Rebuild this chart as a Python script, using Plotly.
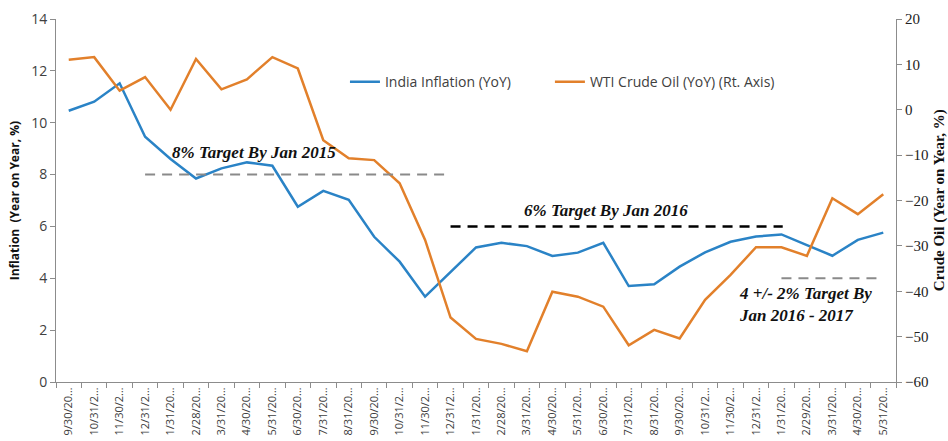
import plotly.graph_objects as go

dates = ["2013-09-30", "2013-10-31", "2013-11-30", "2013-12-31",
         "2014-01-31", "2014-02-28", "2014-03-31", "2014-04-30", "2014-05-31", "2014-06-30",
         "2014-07-31", "2014-08-31", "2014-09-30", "2014-10-31", "2014-11-30", "2014-12-31",
         "2015-01-31", "2015-02-28", "2015-03-31", "2015-04-30", "2015-05-31", "2015-06-30",
         "2015-07-31", "2015-08-31", "2015-09-30", "2015-10-31", "2015-11-30", "2015-12-31",
         "2016-01-31", "2016-02-29", "2016-03-31", "2016-04-30", "2016-05-31"]

tick_labels = ["9/30/20…", "10/31/2…", "11/30/2…", "12/31/2…",
               "1/31/20…", "2/28/20…", "3/31/20…", "4/30/20…", "5/31/20…", "6/30/20…",
               "7/31/20…", "8/31/20…", "9/30/20…", "10/31/2…", "11/30/2…", "12/31/2…",
               "1/31/20…", "2/28/20…", "3/31/20…", "4/30/20…", "5/31/20…", "6/30/20…",
               "7/31/20…", "8/31/20…", "9/30/20…", "10/31/2…", "11/30/2…", "12/31/2…",
               "1/31/20…", "2/29/20…", "3/31/20…", "4/30/20…", "5/31/20…"]

india_inflation = [10.46, 10.81, 11.52, 9.46, 8.6, 7.85, 8.24, 8.47, 8.34, 6.76,
                   7.37, 7.03, 5.6, 4.64, 3.29, 4.25, 5.19, 5.37, 5.24, 4.86,
                   4.99, 5.37, 3.70, 3.77, 4.45, 5.0, 5.41, 5.61, 5.69, 5.28,
                   4.87, 5.48, 5.76]

wti_crude = [11.0, 11.6, 4.2, 7.2, 0.0, 11.2, 4.5, 6.7, 11.6, 9.1,
             -6.7, -10.7, -11.1, -16.2, -28.7, -45.8, -50.5, -51.6, -53.2, -40.1,
             -41.2, -43.4, -51.9, -48.5, -50.4, -41.9, -36.4, -30.3, -30.3, -32.2,
             -19.5, -23.0, -18.6]

target_values = [8, 6, 4]
target_labels = ["8% Target By Jan 2015", "6% Target By Jan 2016",
                 "4 +/- 2% Target By<br>Jan 2016 - 2017"]

BLUE = "#2A83C6"
ORANGE = "#E2802B"
AXIS = "#8C8C8C"
SANS = "Open Sans, Liberation Sans, sans-serif"
SERIF = "Liberation Serif, Times New Roman, serif"

fig = go.Figure()
fig.add_trace(go.Scatter(x=dates, y=india_inflation, mode="lines",
                         name="India Inflation (YoY)", legend="legend",
                         line=dict(color=BLUE, width=2.5)))
fig.add_trace(go.Scatter(x=dates, y=wti_crude, mode="lines",
                         name="WTI Crude Oil (YoY) (Rt. Axis)", legend="legend2",
                         line=dict(color=ORANGE, width=2.5), yaxis="y2"))

# target reference lines (x in category index units)
fig.add_shape(type="line", xref="x", yref="y", x0=3, x1=14.9,
              y0=target_values[0], y1=target_values[0],
              line=dict(color="#8A8A8A", width=2, dash="10px,7px"))
fig.add_shape(type="line", xref="x", yref="y", x0=15, x1=28.05,
              y0=target_values[1], y1=target_values[1],
              line=dict(color="#000000", width=2.5, dash="10px,7px"))
fig.add_shape(type="line", xref="x", yref="y", x0=28, x1=31.8,
              y0=target_values[2], y1=target_values[2],
              line=dict(color="#8A8A8A", width=2, dash="10px,7px"))

ann_font = dict(family=SERIF, size=17, color="#111111", weight="bold", style="italic")
fig.add_annotation(x=7.28, y=8.87, xref="x", yref="y", text=target_labels[0],
                   showarrow=False, font=ann_font)
fig.add_annotation(x=21.1, y=6.63, xref="x", yref="y", text=target_labels[1],
                   showarrow=False, font=ann_font)
fig.add_annotation(x=26.26, y=2.97, xref="x", yref="y", text=target_labels[2],
                   showarrow=False, font=ann_font, xanchor="left", align="left")

# axis titles
fig.add_annotation(x=-0.049, y=0.5, xref="paper", yref="paper", xanchor="center",
                   text="Inflation  (Year on Year, %)", textangle=-90, showarrow=False,
                   font=dict(family=SANS, size=12, color="#111111", weight="bold"))
fig.add_annotation(x=1.052, y=0.5, xref="paper", yref="paper", xanchor="center",
                   text="Crude Oil (Year on Year, %)", textangle=-90, showarrow=False,
                   font=dict(family=SERIF, size=15, color="#111111", weight="bold"))

legend_font = dict(family=SANS, size=14, color="#404040")
fig.update_layout(
    template="none",
    width=948, height=441,
    margin=dict(l=56, r=52, t=19, b=59),
    paper_bgcolor="white", plot_bgcolor="white",
    showlegend=True,
    legend=dict(orientation="h", x=0.344, y=0.826, xanchor="left", yanchor="middle",
                bgcolor="rgba(0,0,0,0)", font=legend_font),
    legend2=dict(orientation="h", x=0.588, y=0.826, xanchor="left", yanchor="middle",
                 bgcolor="rgba(0,0,0,0)", font=legend_font),
    xaxis=dict(type="category", categoryorder="array", categoryarray=dates,
               tickvals=dates, ticktext=tick_labels, tickangle=-90,
               range=[-0.5, len(dates) - 0.5],
               showgrid=False, zeroline=False, showline=True, linecolor=AXIS, linewidth=1,
               ticks="outside", tickson="boundaries", ticklen=5, tickcolor=AXIS,
               tickfont=dict(family=SANS, size=11, color="#404040")),
    yaxis=dict(range=[0, 14], dtick=2, showgrid=False, zeroline=False,
               showline=True, linecolor=AXIS, linewidth=1,
               ticks="outside", ticklen=5, tickcolor=AXIS,
               tickfont=dict(family=SANS, size=14, color="#404040")),
    yaxis2=dict(range=[-60, 20], dtick=10, overlaying="y", side="right",
                showgrid=False, zeroline=False,
                showline=True, linecolor=AXIS, linewidth=1,
                ticks="outside", ticklen=5, tickcolor=AXIS,
                tickfont=dict(family=SERIF, size=15, color="#222222")),
)

fig.write_html("out.html", config={"displayModeBar": False},
               post_script="document.body.style.margin='0';")
